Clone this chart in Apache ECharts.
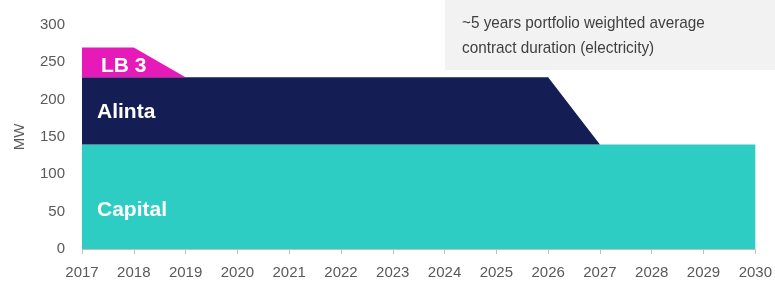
<!DOCTYPE html>
<html>
<head>
<meta charset="utf-8">
<script src="https://cdn.jsdelivr.net/npm/echarts@6/dist/echarts.min.js"></script>
<style>
  html, body { margin: 0; padding: 0; background: #fff; }
  #chart { width: 775px; height: 281px; }
</style>
</head>
<body>
<div id="chart"></div>
<script>
var years = ['2017', '2018', '2019', '2020', '2021', '2022', '2023', '2024', '2025', '2026', '2027', '2028', '2029', '2030'];
var capital = [140, 140, 140, 140, 140, 140, 140, 140, 140, 140, 140, 140, 140, 140];
var alinta = [90, 90, 90, 90, 90, 90, 90, 90, 90, 90, 0, 0, 0, 0];
var lb3 = [40, 40, 0, 0, 0, 0, 0, 0, 0, 0, 0, 0, 0, 0];
var noteLines = ['~5 years portfolio weighted average', 'contract duration (electricity)'];

var font = '"Liberation Sans", Arial, sans-serif';
var chart = echarts.init(document.getElementById('chart'));

function areaSeries(name, data, color) {
  return {
    name: name,
    type: 'line',
    stack: 'mw',
    data: data,
    symbol: 'none',
    lineStyle: { width: 0 },
    areaStyle: { color: color, opacity: 1 },
    silent: true
  };
}

var option = {
  animation: false,
  grid: { left: 82, right: 18, top: 25, bottom: 32 },
  xAxis: {
    type: 'category',
    data: years,
    boundaryGap: false,
    axisLine: { lineStyle: { color: '#bfbfbf', width: 1 } },
    axisTick: { show: true, length: 5, lineStyle: { color: '#bfbfbf' } },
    axisLabel: { color: '#595959', fontSize: 15, fontFamily: font, margin: 16 },
    splitLine: { show: false }
  },
  yAxis: {
    type: 'value',
    min: 0,
    max: 300,
    interval: 50,
    name: 'MW',
    nameLocation: 'middle',
    nameRotate: 90,
    nameGap: 55,
    nameTextStyle: { color: '#595959', fontSize: 15, fontFamily: font },
    axisLine: { show: false },
    axisTick: { show: false },
    axisLabel: { color: '#595959', fontSize: 15, fontFamily: font, margin: 17 },
    splitLine: { show: false }
  },
  series: [
    areaSeries('Capital', capital, '#2ecdc4'),
    areaSeries('Alinta', alinta, '#141e55'),
    areaSeries('LB 3', lb3, '#e619b9')
  ],
  graphic: [
    {
      type: 'rect',
      shape: { x: 445, y: 0, width: 330, height: 70 },
      style: { fill: '#f2f2f2' },
      z: 10
    },
    {
      type: 'text',
      x: 462,
      y: 11,
      scaleX: 0.9,
      z: 11,
      style: {
        text: noteLines.join('\n'),
        fill: '#404040',
        font: '17px ' + font,
        lineHeight: 25
      }
    },
    {
      type: 'text', left: 101, top: 56, z: 11,
      style: { text: 'LB 3', fill: '#fff', font: 'bold 21px ' + font }
    },
    {
      type: 'text', left: 97, top: 102, z: 11,
      style: { text: 'Alinta', fill: '#fff', font: 'bold 21px ' + font }
    },
    {
      type: 'text', left: 97, top: 200, z: 11,
      style: { text: 'Capital', fill: '#fff', font: 'bold 21px ' + font }
    }
  ]
};

chart.setOption(option);
</script>
</body>
</html>
